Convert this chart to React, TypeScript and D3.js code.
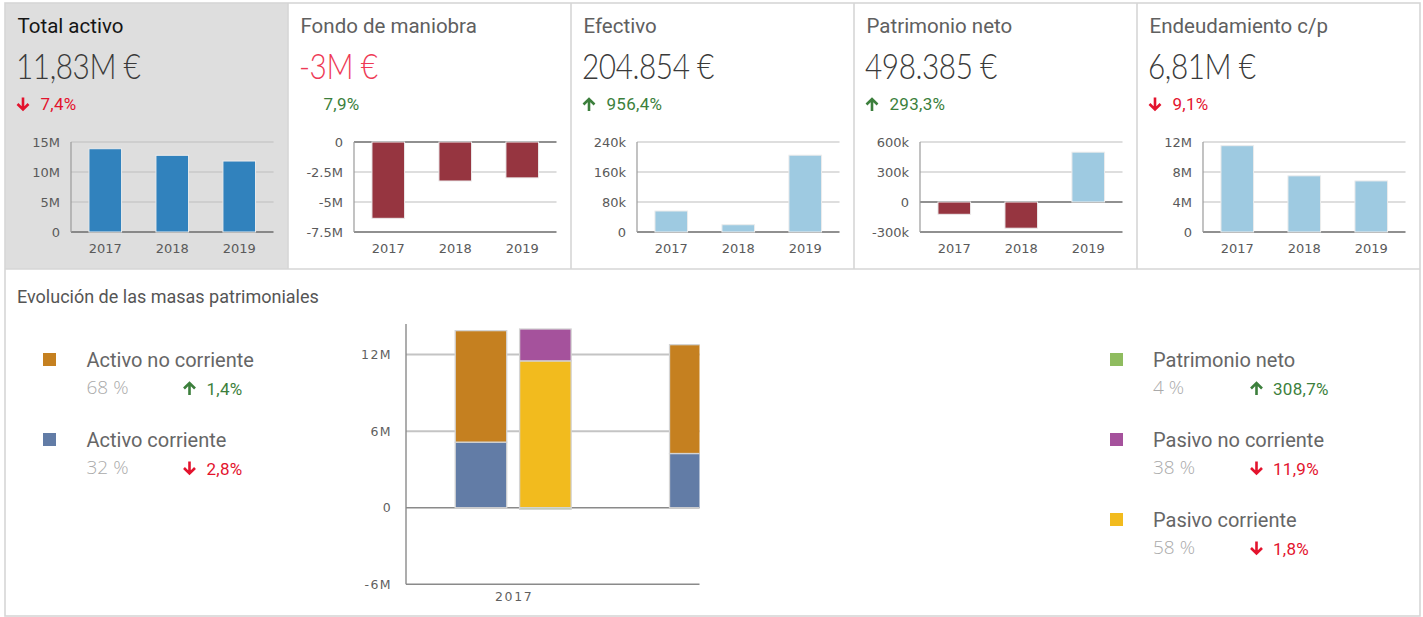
import React from "react";
import * as d3 from "d3";

// ---------- data ----------
const YEARS = ["2017", "2018", "2019"];

const totalActivo = [13.88e6, 12.78e6, 11.83e6];
const fondoManiobra = [-6.36e6, -3.25e6, -2.99e6];
const efectivo = [56e3, 19.4e3, 204.854e3];
const patrimonioNeto = [-123e3, -262e3, 498.385e3];
const endeudamientoCP = [11.51e6, 7.49e6, 6.81e6];

const ticksTotal = [0, 5e6, 10e6, 15e6];
const labelsTotal = ["0", "5M", "10M", "15M"];
const ticksFondo = [0, -2.5e6, -5e6, -7.5e6];
const labelsFondo = ["0", "-2.5M", "-5M", "-7.5M"];
const ticksEfectivo = [0, 80e3, 160e3, 240e3];
const labelsEfectivo = ["0", "80k", "160k", "240k"];
const ticksPatrimonio = [-300e3, 0, 300e3, 600e3];
const labelsPatrimonio = ["-300k", "0", "300k", "600k"];
const ticksEndeud = [0, 4e6, 8e6, 12e6];
const labelsEndeud = ["0", "4M", "8M", "12M"];

// stacked chart data
const activoCorriente = [5.14e6, 4.25e6, 3.79e6];
const activoNoCorriente = [8.74e6, 8.53e6, 8.04e6];
const pasivoCorriente = [11.51e6, 7.49e6, 6.81e6];
const pasivoNoCorriente = [2.5e6, 5.55e6, 4.52e6];
const patrimonioNetoStack = [-123e3, -262e3, 498.385e3];
const stackTicks = [-6e6, 0, 6e6, 12e6];
const stackTickLabels = ["-6M", "0", "6M", "12M"];

const leftLegend = [
  { name: "Activo no corriente", pct: "68 %", change: "1,4%", dir: "up", color: "#c58020" },
  { name: "Activo corriente", pct: "32 %", change: "2,8%", dir: "down", color: "#627ca6" },
];
const rightLegend = [
  { name: "Patrimonio neto", pct: "4 %", change: "308,7%", dir: "up", color: "#8fbc5f" },
  { name: "Pasivo no corriente", pct: "38 %", change: "11,9%", dir: "down", color: "#a5529c" },
  { name: "Pasivo corriente", pct: "58 %", change: "1,8%", dir: "down", color: "#f2bb1e" },
];

// ---------- styles ----------
const RED = "#e3132d";
const GREEN = "#3c7f3c";
const DARKRED = "#963540";
const LIGHTBLUE = "#9ecae1";
const BLUE = "#3182bd";
const SANS = "Roboto, 'Noto Sans', sans-serif";
const LIGHT = "Lato, Roboto, sans-serif";
const LIGHT2 = "'Open Sans', Roboto, sans-serif";
const AXISFONT = "'DejaVu Sans', Verdana, sans-serif";

const cards = [
  { title: "Total activo", value: "11,83M €", valueColor: "#3a3a3a", change: "7,4%", dir: "down", values: totalActivo, domain: [0, 15e6], ticks: ticksTotal, labels: labelsTotal, pos: BLUE, neg: BLUE, selected: true },
  { title: "Fondo de maniobra", value: "-3M €", valueColor: "#ee3a56", change: "7,9%", dir: "none", values: fondoManiobra, domain: [-7.5e6, 0], ticks: ticksFondo, labels: labelsFondo, pos: DARKRED, neg: DARKRED, selected: false },
  { title: "Efectivo", value: "204.854 €", valueColor: "#3a3a3a", change: "956,4%", dir: "up", values: efectivo, domain: [0, 240e3], ticks: ticksEfectivo, labels: labelsEfectivo, pos: LIGHTBLUE, neg: DARKRED, selected: false },
  { title: "Patrimonio neto", value: "498.385 €", valueColor: "#3a3a3a", change: "293,3%", dir: "up", values: patrimonioNeto, domain: [-300e3, 600e3], ticks: ticksPatrimonio, labels: labelsPatrimonio, pos: LIGHTBLUE, neg: DARKRED, selected: false },
  { title: "Endeudamiento c/p", value: "6,81M €", valueColor: "#3a3a3a", change: "9,1%", dir: "down", values: endeudamientoCP, domain: [0, 12e6], ticks: ticksEndeud, labels: labelsEndeud, pos: LIGHTBLUE, neg: LIGHTBLUE, selected: false },
];

const CARD_X0 = 5;
const CARD_W = 283;
const TOP_Y = 3;
const MID_Y = 269;
const BOTTOM_Y = 616;
const RIGHT_X = 1420;

function Arrow({ x, y, dir }: { x: number; y: number; dir: string }) {
  if (dir === "none") return null;
  const color = dir === "up" ? GREEN : RED;
  const cx = x + 6.5;
  const d =
    dir === "down"
      ? `M${cx},${y} L${cx},${y + 12} M${x + 1},${y + 6.5} L${cx},${y + 12} L${x + 12},${y + 6.5}`
      : `M${cx},${y + 13.5} L${cx},${y + 1.5} M${x + 1},${y + 7} L${cx},${y + 1.5} L${x + 12},${y + 7}`;
  return <path d={d} fill="none" stroke={color} strokeWidth={2.6} />;
}

function MiniChart({ x0, card }: { x0: number; card: any }) {
  const left = x0 + 66;
  const right = x0 + 268.5;
  const top = 142;
  const bottom = 232;
  const x = d3.scaleBand().domain(YEARS).range([left, right]).paddingInner(0.513).paddingOuter(0.268);
  const y = d3.scaleLinear().domain(card.domain).range([bottom, top]);
  const zero = y(0);
  return (
    <g>
      {card.ticks.map((t: number, i: number) => {
        const dark = t === 0 || y(t) === bottom;
        return (
          <g key={i}>
            <line x1={left} x2={right} y1={y(t)} y2={y(t)} stroke={dark ? "#6b6b6b" : "#bdbdbd"} strokeWidth={dark ? 1.6 : 1.2} />
            <text x={x0 + 55} y={y(t)} dy="0.36em" textAnchor="end" fontFamily={AXISFONT} fontSize={13} fill="#5a5a5a">
              {card.labels[i]}
            </text>
          </g>
        );
      })}
      <line x1={left} x2={left} y1={top} y2={bottom} stroke="#9a9a9a" strokeWidth={1.2} />
      {card.values.map((v: number, i: number) => (
        <rect
          key={i}
          x={x(YEARS[i])}
          width={x.bandwidth()}
          y={Math.min(y(v), zero)}
          height={Math.abs(y(v) - zero)}
          fill={v >= 0 ? card.pos : card.neg}
          stroke="#ececec"
          strokeWidth={1}
        />
      ))}
      {YEARS.map((yr) => (
        <text key={yr} x={(x(yr) as number) + x.bandwidth() / 2} y={252.5} textAnchor="middle" fontFamily={AXISFONT} fontSize={13} fill="#5a5a5a">
          {yr}
        </text>
      ))}
    </g>
  );
}

function Card({ i, card }: { i: number; card: any }) {
  const x0 = CARD_X0 + i * CARD_W;
  return (
    <g>
      {card.selected && <rect x={x0} y={TOP_Y} width={CARD_W} height={MID_Y - TOP_Y} fill="#dedede" />}
      <text x={x0 + 12.5} y={32.5} fontFamily={SANS} fontSize={20.5} fill={card.selected ? "#151515" : "#606060"}>
        {card.title}
      </text>
      <text
        transform={`translate(${x0 + 11},78.5) scale(0.85,1)`}
        fontFamily={LIGHT}
        fontWeight={300}
        fontSize={35}
        letterSpacing={-0.5}
        fill={card.valueColor}
      >
        {card.value}
      </text>
      <Arrow x={x0 + 11.5} y={97.5} dir={card.dir} />
      <text x={x0 + 35.5} y={110} fontFamily={SANS} fontSize={17} letterSpacing={0.3} fill={card.dir === "down" ? RED : GREEN}>
        {card.change}
      </text>
      <MiniChart x0={x0} card={card} />
    </g>
  );
}

function StackChart() {
  const left = 406;
  const clipRight = 699.5;
  const top = 324;
  const bottom = 584.3;
  const x0 = d3.scaleBand().domain(YEARS).range([left, left + 643]).paddingInner(0.459).paddingOuter(0.2295);
  const x1 = d3.scaleBand().domain(["assets", "liabilities"]).range([0, x0.bandwidth()]).paddingInner(0.2);
  const y = d3.scaleLinear().domain([-6e6, 14.4e6]).range([bottom, top]);

  const rows = YEARS.map((yr, i) => ({
    year: yr,
    activoCorriente: activoCorriente[i],
    activoNoCorriente: activoNoCorriente[i],
    pasivoCorriente: pasivoCorriente[i],
    pasivoNoCorriente: pasivoNoCorriente[i],
    patrimonioNeto: patrimonioNetoStack[i],
  }));
  const assetStack = d3.stack<any>().keys(["activoCorriente", "activoNoCorriente"]).offset(d3.stackOffsetDiverging)(rows);
  const liabStack = d3.stack<any>().keys(["pasivoCorriente", "pasivoNoCorriente", "patrimonioNeto"]).offset(d3.stackOffsetDiverging)(rows);
  const colors: Record<string, string> = {
    activoCorriente: "#627ca6",
    activoNoCorriente: "#c58020",
    pasivoCorriente: "#f2bb1e",
    pasivoNoCorriente: "#a5529c",
    patrimonioNeto: "#8fbc5f",
  };

  const renderStack = (stack: any[], group: string) =>
    stack.map((s: any) =>
      s.map((d: any, j: number) => {
        const y0 = y(d[0]);
        const y1 = y(d[1]);
        return (
          <rect
            key={`${group}-${s.key}-${j}`}
            x={(x0(d.data.year) as number) + (x1(group) as number)}
            width={x1.bandwidth()}
            y={Math.min(y0, y1)}
            height={Math.abs(y1 - y0)}
            fill={colors[s.key]}
            stroke="#d4d4d4"
            strokeWidth={1.3}
          />
        );
      })
    );

  return (
    <g>
      <defs>
        <clipPath id="stackclip">
          <rect x={left} y={top - 10} width={clipRight - left} height={bottom - top + 12} />
        </clipPath>
      </defs>
      {stackTicks.map((t, i) => {
        const dark = t === 0 || t === -6e6;
        return (
          <g key={i}>
            <line x1={left} x2={clipRight} y1={y(t)} y2={y(t)} stroke={dark ? "#8a8a8a" : "#c4c4c4"} strokeWidth={dark ? 1.6 : 2} />
            <text x={392} y={y(t)} dy="0.36em" textAnchor="end" fontFamily={AXISFONT} fontSize={12.5} letterSpacing={1.4} fill="#5f5f5f">
              {stackTickLabels[i]}
            </text>
          </g>
        );
      })}
      <line x1={left} x2={left} y1={top} y2={bottom} stroke="#8a8a8a" strokeWidth={1.4} />
      <g clipPath="url(#stackclip)">
        {renderStack(assetStack, "assets")}
        {renderStack(liabStack, "liabilities")}
      </g>
      {YEARS.map((yr) => {
        const cx = (x0(yr) as number) + x0.bandwidth() / 2;
        if (cx > clipRight) return null;
        return (
          <text key={yr} x={cx + 1} y={600.5} textAnchor="middle" fontFamily={AXISFONT} fontSize={12.5} letterSpacing={1.6} fill="#5f5f5f">
            {yr}
          </text>
        );
      })}
    </g>
  );
}

function Legend({ items, sx, tx, ax, vx }: { items: any[]; sx: number; tx: number; ax: number; vx: number }) {
  return (
    <g>
      {items.map((it, i) => {
        const base = 353 + i * 80;
        return (
          <g key={it.name}>
            <rect x={sx} y={base} width={13} height={13} fill={it.color} />
            <text x={tx} y={base + 14} fontFamily={SANS} fontSize={20} fill="#666">
              {it.name}
            </text>
            <text x={tx} y={base + 41} fontFamily={LIGHT2} fontWeight={300} fontSize={19} fill="#aaa">
              {it.pct}
            </text>
            <Arrow x={ax} y={base + 28.5} dir={it.dir} />
            <text x={vx} y={base + 41.5} fontFamily={SANS} fontSize={17} letterSpacing={0.3} fill={it.dir === "up" ? GREEN : RED}>
              {it.change}
            </text>
          </g>
        );
      })}
    </g>
  );
}

export default function App() {
  return (
    <svg width={1423} height={617} style={{ position: "absolute", left: 0, top: 0, background: "#fff" }}>
      {cards.map((c, i) => (
        <Card key={c.title} i={i} card={c} />
      ))}
      {/* borders */}
      <rect x={CARD_X0} y={TOP_Y} width={RIGHT_X - CARD_X0} height={BOTTOM_Y - TOP_Y} fill="none" stroke="#d6d6d6" strokeWidth={1.6} />
      <line x1={CARD_X0} x2={RIGHT_X} y1={MID_Y} y2={MID_Y} stroke="#d6d6d6" strokeWidth={1.6} />
      {[1, 2, 3, 4].map((i) => (
        <line key={i} x1={CARD_X0 + i * CARD_W} x2={CARD_X0 + i * CARD_W} y1={TOP_Y} y2={MID_Y} stroke="#d6d6d6" strokeWidth={1.6} />
      ))}
      <text x={17} y={303} fontFamily={SANS} fontSize={18} fill="#555">
        Evolución de las masas patrimoniales
      </text>
      <Legend items={leftLegend} sx={43} tx={86.5} ax={183} vx={206.5} />
      <Legend items={rightLegend} sx={1110} tx={1153} ax={1250} vx={1273} />
      <StackChart />
    </svg>
  );
}
